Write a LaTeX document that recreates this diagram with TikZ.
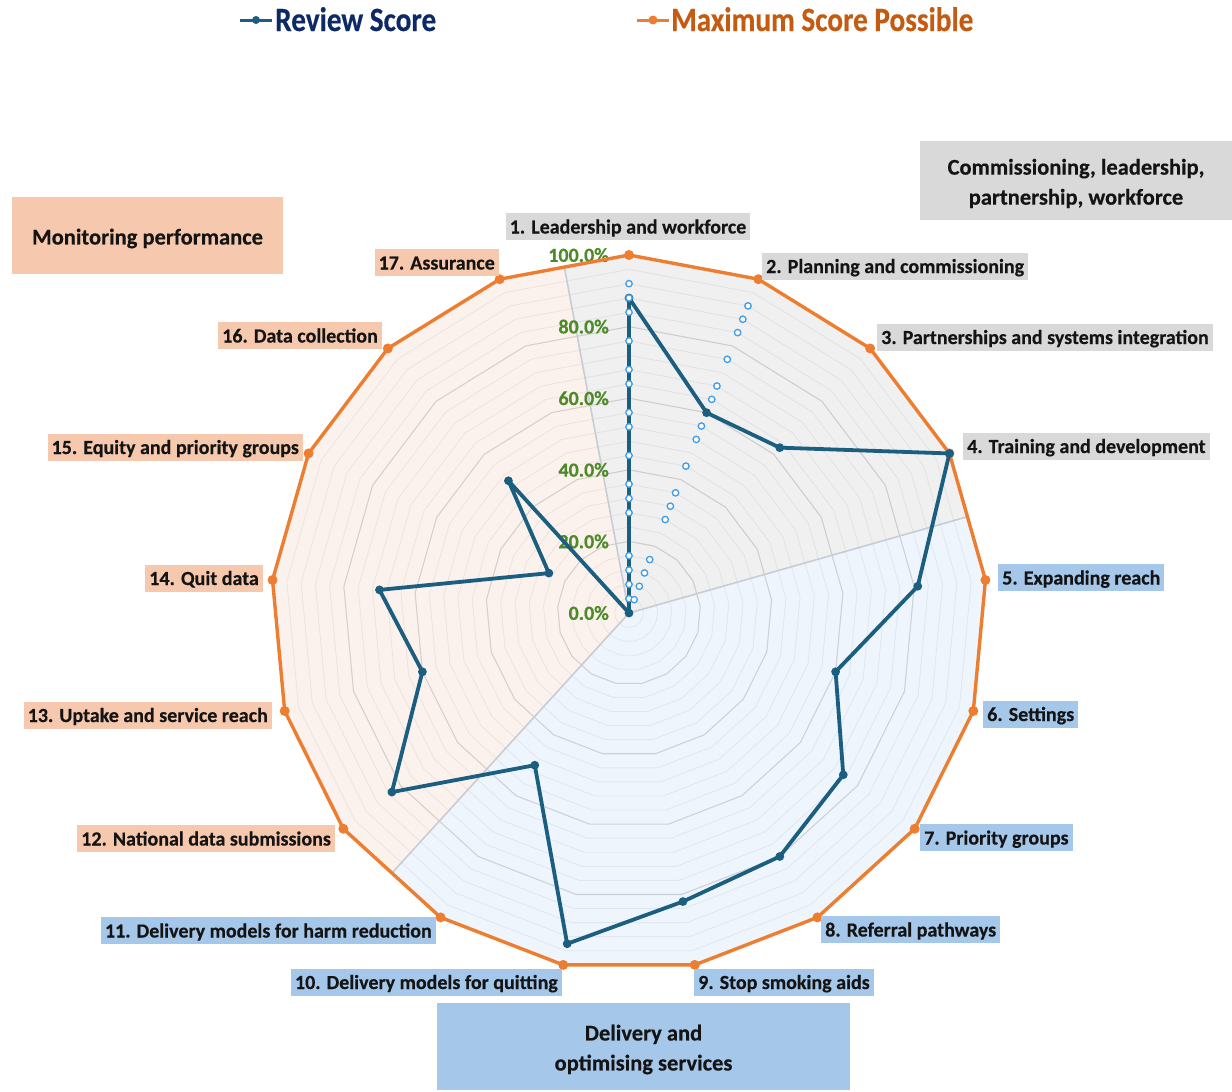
\documentclass[tikz,border=0pt]{standalone}
\usepackage{fontspec}
\setmainfont{Carlito}[BoldFeatures={FakeBold=0.4}]
\usetikzlibrary{calc}
\definecolor{serieblue}{RGB}{27,94,128}
\definecolor{maxorange}{RGB}{237,125,49}
\definecolor{hollowblue}{RGB}{64,156,232}
\definecolor{pctgreen}{RGB}{78,138,40}
\definecolor{legnavy}{RGB}{14,42,102}
\definecolor{legorange}{RGB}{197,90,17}
\definecolor{boxgray}{RGB}{217,217,217}
\definecolor{boxblue}{RGB}{164,199,234}
\definecolor{boxpeach}{RGB}{246,200,173}
\definecolor{secgray}{RGB}{240,240,240}
\definecolor{secblue}{RGB}{239,245,252}
\definecolor{secpeach}{RGB}{251,242,237}
\definecolor{sepline}{RGB}{200,205,212}
\definecolor{labtext}{RGB}{20,20,20}

\begin{document}
\begin{tikzpicture}[x=1pt,y=-1pt,
  lab/.style={font=\fontsize{20}{24}\selectfont\bfseries, text=labtext,
    inner xsep=4pt, inner ysep=0pt, minimum height=27pt,
    text height=16pt, text depth=2pt},
  labgray/.style={lab, fill=boxgray},
  labblue/.style={lab, fill=boxblue},
  labpeach/.style={lab, fill=boxpeach},
  secttitle/.style={font=\fontsize{22.5}{30}\selectfont\bfseries, text=labtext,
    align=center, inner sep=0pt},
  pct/.style={font=\fontsize{20}{24}\selectfont\bfseries, text=pctgreen,
    anchor=east, inner sep=0pt},
  minorgrid/.style={draw=black, draw opacity=0.055, line width=0.9pt},
  majorgrid/.style={draw=black, draw opacity=0.14, line width=1.1pt},
  sectorline/.style={draw=sepline, line width=1.6pt},
  maxline/.style={draw=maxorange, line width=3.4pt, line join=round},
  series/.style={draw=serieblue, line width=3.8pt, line join=round},
  hollow/.style={draw=hollowblue, fill=white, line width=1.3pt},
  legtext/.style={font=\fontsize{34}{36}\selectfont\bfseries, anchor=west,
    inner sep=0pt, text height=22pt, text depth=0pt}
]
\useasboundingbox (0,0) rectangle (1232,1092);

% centre and the 17 axis ends at 100%
\coordinate (C) at (629,613);
\foreach \k in {1,...,17}
  \coordinate (A\k) at ($(C)+({-90+(\k-1)*360/17}:358)$);

% boundaries between the three themes
\coordinate (B1) at ($(A17)!0.5!(A1)$);
\coordinate (B5) at ($(A4)!0.5!(A5)$);
\coordinate (B12) at ($(A11)!0.5!(A12)$);

% theme sectors
\fill[secgray] (C) -- (B1) -- (A1) -- (A2) -- (A3) -- (A4) -- (B5) -- cycle;
\fill[secblue] (C) -- (B5) -- (A5) -- (A6) -- (A7) -- (A8) -- (A9) -- (A10) -- (A11) -- (B12) -- cycle;
\fill[secpeach] (C) -- (B12) -- (A12) -- (A13) -- (A14) -- (A15) -- (A16) -- (A17) -- (B1) -- cycle;

% minor and major grid rings
\foreach \i in {1,2,3,4,6,7,8,9,11,12,13,14,16,17,18,19,21,22,23,24} {
  \pgfmathsetmacro{\f}{\i*0.04}
  \draw[minorgrid] ($(C)!\f!(A1)$) \foreach \k in {2,...,17}{ -- ($(C)!\f!(A\k)$) } -- cycle;
}
\foreach \f in {0.2,0.4,0.6,0.8} {
  \draw[majorgrid] ($(C)!\f!(A1)$) \foreach \k in {2,...,17}{ -- ($(C)!\f!(A\k)$) } -- cycle;
}

% sector dividers
\draw[sectorline] (C) -- (B1);
\draw[sectorline] (C) -- (B5);
\draw[sectorline] (C) -- (B12);

% scale labels
\node[pct] (p0)   at (609,613) {0.0\%};
\node[pct] (p20)  at (609,541.4) {20.0\%};
\node[pct] (p40)  at (609,469.8) {40.0\%};
\node[pct] (p60)  at (609,398.2) {60.0\%};
\node[pct] (p80)  at (609,326.6) {80.0\%};
\node[pct] (p100) at (609,255) {100.0\%};

% maximum score possible
\draw[maxline] (A1) \foreach \k in {2,...,17}{ -- (A\k) } -- cycle;
\foreach \k in {1,...,17} \fill[maxorange] (A\k) circle (5pt);

% review score
\foreach \k/\v in {1/0.88,2/0.60,3/0.625,4/1.0,5/0.81,6/0.60,7/0.75,8/0.80,
                   9/0.82,10/0.94,11/0.50,12/0.83,13/0.60,14/0.70,15/0.25,16/0.50,17/0.0}
  \coordinate (D\k) at ($(C)!\v!(A\k)$);
\draw[series] (D1) \foreach \k in {2,...,17}{ -- (D\k) } -- cycle;
\foreach \k in {1,...,17} \fill[serieblue] (D\k) circle (4.4pt);

% open markers along the first two axes
\foreach \f in {0.04,0.08,0.12,0.16,0.28,0.32,0.36,0.44,0.52,0.56,0.64,0.68,0.76,0.84,0.88,0.92} {
  \draw[hollow] ($(C)!\f!(A1)$) circle (3.2pt);
  \draw[hollow] ($(C)!\f!(A2)$) circle (3.2pt);
}

% axis labels
\node[labgray]  (l1)  at (628,226.5) {1. Leadership and workforce};
\node[labgray, anchor=west]  (l2)  at (762,266) {2. Planning and commissioning};
\node[labgray, anchor=west]  (l3)  at (877,337) {3. Partnerships and systems integration};
\node[labgray, anchor=west]  (l4)  at (963,446) {4. Training and development};
\node[labblue, anchor=west]  (l5)  at (998,577.5) {5. Expanding reach};
\node[labblue, anchor=west]  (l6)  at (983,714) {6. Settings};
\node[labblue, anchor=west]  (l7)  at (920,837.5) {7. Priority groups};
\node[labblue, anchor=west]  (l8)  at (821,929.5) {8. Referral pathways};
\node[labblue, anchor=west]  (l9)  at (694,982) {9. Stop smoking aids};
\node[labblue, anchor=east]  (l10) at (562,982) {10. Delivery models for quitting};
\node[labblue, anchor=east]  (l11) at (436,930.5) {11. Delivery models for harm reduction};
\node[labpeach, anchor=east] (l12) at (335,838.5) {12. National data submissions};
\node[labpeach, anchor=east] (l13) at (272,715) {13. Uptake and service reach};
\node[labpeach, anchor=east] (l14) at (263,578) {14. Quit data};
\node[labpeach, anchor=east] (l15) at (303,447) {15. Equity and priority groups};
\node[labpeach, anchor=east] (l16) at (382,335.5) {16. Data collection};
\node[labpeach, anchor=east] (l17) at (499,262.5) {17. Assurance};

% theme titles
\node[fill=boxgray, minimum width=312pt, minimum height=79pt, inner sep=0pt] (tA) at (1076,180.5) {};
\node[secttitle] (tAt) at ($(tA.center)+(0,3)$) {Commissioning, leadership,\\partnership, workforce};
\node[fill=boxpeach, minimum width=271pt, minimum height=77pt, inner sep=0pt] (tM) at (147.5,235.5) {};
\node[secttitle] (tMt) at ($(tM.center)+(0,3)$) {Monitoring performance};
\node[fill=boxblue, minimum width=413pt, minimum height=87pt, inner sep=0pt] (tD) at (643.5,1046.5) {};
\node[secttitle] (tDt) at ($(tD.center)+(0,3)$) {Delivery and\\optimising services};

% legend
\coordinate (lgA) at (240,20);
\coordinate (lgB) at (272,20);
\draw[serieblue, line width=3pt] (lgA) -- (lgB);
\fill[serieblue] ($(lgA)!0.5!(lgB)$) circle (4pt);
\node[legtext, text=legnavy] (lgR) at (275,20) {\scalebox{0.86}[1]{Review Score}};
\coordinate (lgC) at (637,20);
\coordinate (lgD) at (669,20);
\draw[maxorange, line width=3pt] (lgC) -- (lgD);
\fill[maxorange] ($(lgC)!0.5!(lgD)$) circle (4.5pt);
\node[legtext, text=legorange] (lgM) at (671,20) {\scalebox{0.86}[1]{Maximum Score Possible}};
\end{tikzpicture}
\end{document}
